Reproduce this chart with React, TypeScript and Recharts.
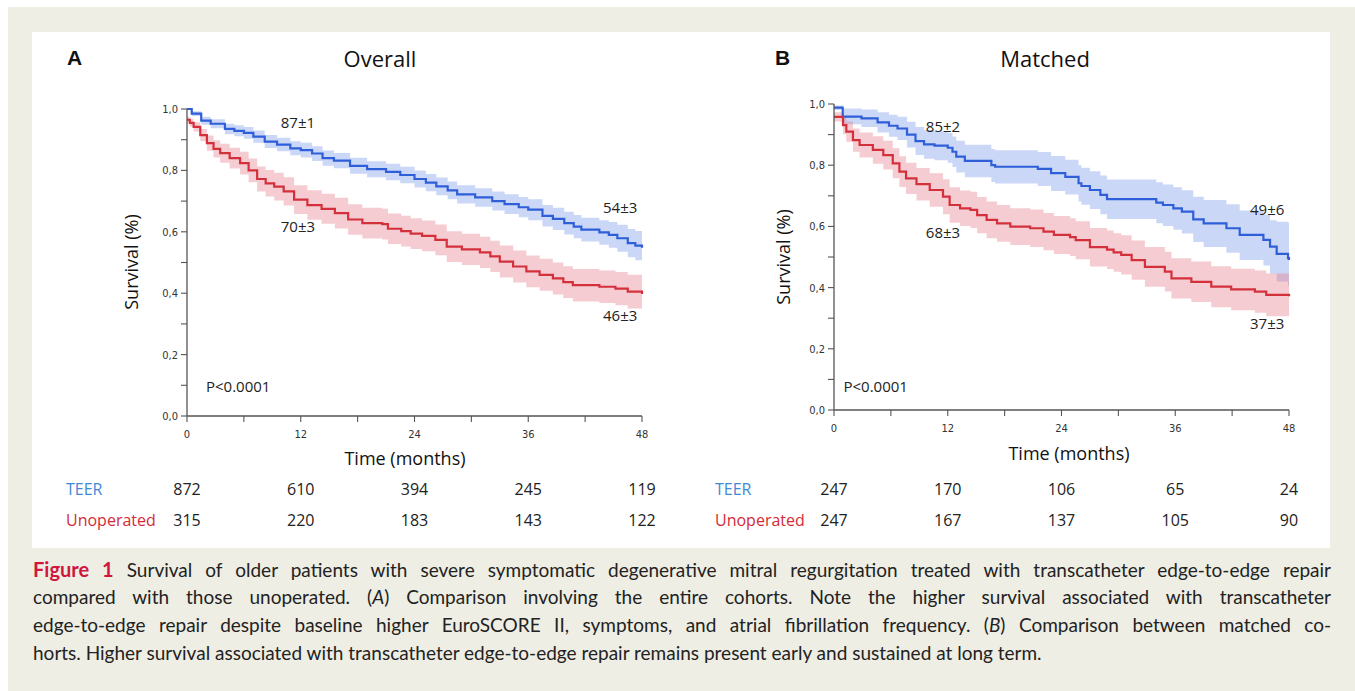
import React from 'react';
import { ComposedChart, Line, Area, XAxis, YAxis, ReferenceDot } from 'recharts';

// ---------- Panel A (Overall) ----------
const teerAT = [0, 0.5, 1.5, 2.5, 4, 5, 6, 7, 8.2, 9.5, 10.9, 12, 13.2, 14.3, 15.5, 17.2, 19, 21, 22.5, 24, 25.2, 26.3, 27.5, 28.5, 30.4, 32.2, 33.5, 35, 36, 37.5, 38.6, 39.8, 40.8, 41.6, 43.5, 44.5, 45.4, 46.5, 47.3, 48];
const teerAS = [1.0, 0.985, 0.962, 0.952, 0.935, 0.929, 0.922, 0.91, 0.894, 0.884, 0.872, 0.866, 0.855, 0.84, 0.832, 0.815, 0.804, 0.795, 0.785, 0.772, 0.76, 0.748, 0.735, 0.722, 0.712, 0.7, 0.69, 0.68, 0.672, 0.652, 0.642, 0.628, 0.617, 0.607, 0.598, 0.59, 0.579, 0.563, 0.555, 0.548];
const teerAHi = [1.0, 0.993, 0.975, 0.967, 0.952, 0.947, 0.941, 0.93, 0.915, 0.906, 0.895, 0.89, 0.879, 0.865, 0.857, 0.841, 0.83, 0.822, 0.812, 0.8, 0.788, 0.777, 0.764, 0.752, 0.742, 0.731, 0.722, 0.713, 0.706, 0.687, 0.678, 0.665, 0.655, 0.646, 0.638, 0.632, 0.623, 0.609, 0.603, 0.598];
const teerALo = [1.0, 0.977, 0.949, 0.937, 0.918, 0.911, 0.903, 0.89, 0.873, 0.862, 0.849, 0.842, 0.831, 0.815, 0.807, 0.789, 0.778, 0.768, 0.758, 0.744, 0.732, 0.719, 0.706, 0.692, 0.682, 0.669, 0.658, 0.647, 0.638, 0.617, 0.606, 0.591, 0.579, 0.568, 0.558, 0.548, 0.535, 0.517, 0.507, 0.498];

const unopAT = [0, 0.3, 0.7, 1.4, 2.1, 2.8, 3.5, 4.5, 5.6, 6.5, 7.4, 8.3, 9.2, 10.2, 11.3, 12.7, 14.2, 15.6, 17, 18.5, 20.6, 21.2, 22.6, 23.6, 24.8, 26.2, 27.4, 29, 30.9, 32, 33, 34.4, 35.8, 37.2, 38.6, 39.7, 40.7, 43.5, 45.2, 46.5, 48];
const unopAS = [0.965, 0.955, 0.942, 0.915, 0.889, 0.87, 0.856, 0.84, 0.824, 0.8, 0.772, 0.758, 0.747, 0.732, 0.705, 0.687, 0.675, 0.661, 0.64, 0.628, 0.625, 0.61, 0.602, 0.594, 0.587, 0.574, 0.552, 0.543, 0.533, 0.52, 0.503, 0.487, 0.471, 0.46, 0.448, 0.436, 0.426, 0.421, 0.415, 0.405, 0.397];
const unopAHi = [0.975, 0.967, 0.957, 0.935, 0.914, 0.898, 0.887, 0.874, 0.861, 0.839, 0.813, 0.801, 0.792, 0.778, 0.752, 0.735, 0.724, 0.711, 0.69, 0.678, 0.675, 0.66, 0.652, 0.644, 0.637, 0.624, 0.602, 0.594, 0.584, 0.571, 0.555, 0.539, 0.523, 0.512, 0.5, 0.488, 0.479, 0.474, 0.469, 0.46, 0.453];
const unopALo = [0.955, 0.943, 0.927, 0.895, 0.864, 0.842, 0.825, 0.806, 0.787, 0.761, 0.731, 0.715, 0.702, 0.686, 0.658, 0.639, 0.626, 0.611, 0.59, 0.578, 0.575, 0.56, 0.552, 0.544, 0.537, 0.524, 0.502, 0.492, 0.482, 0.469, 0.451, 0.435, 0.419, 0.408, 0.396, 0.384, 0.373, 0.368, 0.361, 0.35, 0.341];

// ---------- Panel B (Matched) ----------
const teerBT = [0, 0.92, 2.9, 4.6, 5.8, 6.7, 7.7, 8.6, 9.5, 10.6, 12, 12.5, 12.9, 13.8, 16.6, 17, 21.5, 22.9, 24.4, 25.8, 26.1, 27, 28.1, 28.8, 34, 34.7, 35.8, 36.7, 37.9, 39, 41.4, 42.8, 45.3, 46, 46.7, 47.9, 48];
const teerBS = [0.988, 0.959, 0.953, 0.94, 0.929, 0.92, 0.9, 0.879, 0.868, 0.864, 0.857, 0.844, 0.828, 0.814, 0.8, 0.795, 0.788, 0.774, 0.762, 0.741, 0.732, 0.719, 0.703, 0.689, 0.678, 0.67, 0.659, 0.648, 0.623, 0.61, 0.594, 0.572, 0.556, 0.534, 0.51, 0.496, 0.49];
const teerBHi = [0.995, 0.985, 0.982, 0.973, 0.965, 0.958, 0.942, 0.925, 0.915, 0.912, 0.905, 0.894, 0.88, 0.867, 0.853, 0.849, 0.843, 0.83, 0.818, 0.8, 0.792, 0.78, 0.766, 0.753, 0.744, 0.737, 0.728, 0.718, 0.697, 0.686, 0.672, 0.652, 0.638, 0.62, 0.615, 0.612, 0.61];
const teerBLo = [0.98, 0.934, 0.925, 0.907, 0.893, 0.882, 0.858, 0.833, 0.821, 0.816, 0.808, 0.794, 0.776, 0.761, 0.745, 0.74, 0.732, 0.716, 0.704, 0.681, 0.671, 0.657, 0.64, 0.624, 0.61, 0.601, 0.589, 0.577, 0.549, 0.533, 0.514, 0.49, 0.472, 0.445, 0.42, 0.405, 0.4];

const unopBT = [0, 0.95, 1.3, 2, 2.7, 4.1, 5.2, 6.2, 6.9, 7.6, 8.7, 10.1, 11.5, 12.2, 13.3, 14.4, 15.1, 16.1, 17.2, 18.6, 20.7, 22.1, 23.2, 24.9, 25.5, 27, 28.8, 29.5, 30.3, 31.4, 32.8, 34.9, 35.6, 37.7, 39.8, 41.9, 44.4, 45.6, 48];
const unopBS = [0.958, 0.931, 0.91, 0.882, 0.866, 0.85, 0.833, 0.806, 0.779, 0.757, 0.738, 0.719, 0.697, 0.67, 0.659, 0.654, 0.637, 0.621, 0.61, 0.599, 0.594, 0.583, 0.572, 0.565, 0.555, 0.532, 0.524, 0.515, 0.507, 0.49, 0.468, 0.452, 0.43, 0.419, 0.403, 0.394, 0.387, 0.376, 0.372];
const unopBHi = [0.973, 0.961, 0.943, 0.92, 0.907, 0.895, 0.88, 0.855, 0.829, 0.808, 0.791, 0.774, 0.754, 0.728, 0.717, 0.713, 0.696, 0.681, 0.67, 0.659, 0.655, 0.644, 0.634, 0.627, 0.617, 0.595, 0.587, 0.578, 0.571, 0.554, 0.533, 0.517, 0.496, 0.485, 0.47, 0.462, 0.456, 0.446, 0.442];
const unopBLo = [0.943, 0.901, 0.877, 0.844, 0.825, 0.805, 0.786, 0.757, 0.729, 0.706, 0.685, 0.664, 0.64, 0.612, 0.601, 0.595, 0.578, 0.561, 0.55, 0.539, 0.533, 0.522, 0.51, 0.503, 0.493, 0.469, 0.461, 0.452, 0.443, 0.426, 0.403, 0.387, 0.364, 0.353, 0.336, 0.326, 0.318, 0.306, 0.302];

// ---------- Axes / risk table ----------
const monthTicks = [0, 6, 12, 18, 24, 30, 36, 42, 48];
const survTicks = [0, 0.1, 0.2, 0.3, 0.4, 0.5, 0.6, 0.7, 0.8, 0.9, 1.0];
const riskTimes = [0, 12, 24, 36, 48];
const riskTeerA = [872, 610, 394, 245, 119];
const riskUnopA = [315, 220, 183, 143, 122];
const riskTeerB = [247, 170, 106, 65, 24];
const riskUnopB = [247, 167, 137, 105, 90];

const captionLines = [
  'Survival of older patients with severe symptomatic degenerative mitral regurgitation treated with transcatheter edge-to-edge repair',
  'compared with those unoperated. (|A|) Comparison involving the entire cohorts. Note the higher survival associated with transcatheter',
  'edge-to-edge repair despite baseline higher EuroSCORE II, symptoms, and atrial fibrillation frequency. (|B|) Comparison between matched co-',
  'horts. Higher survival associated with transcatheter edge-to-edge repair remains present early and sustained at long term.',
];

const NARROW = '"Liberation Sans Narrow", "Arial Narrow", "DejaVu Sans Condensed", "Liberation Sans", sans-serif';
const SANS = '"Open Sans", "Noto Sans", sans-serif';
const BLUE = '#2f5fd8';
const RED = '#d4303c';

type Series = { t: number[]; s: number[]; lo: number[]; hi: number[] };

function buildTable(a: Series, b: Series) {
  const times = Array.from(new Set([...a.t, ...b.t])).sort((x, y) => x - y);
  const idx = (ser: Series, t: number) => {
    let i = 0;
    while (i + 1 < ser.t.length && ser.t[i + 1] <= t) i++;
    return i;
  };
  return times.map((t) => {
    const i = idx(a, t);
    const j = idx(b, t);
    return {
      t,
      teer: a.s[i],
      teerBand: [a.lo[i], a.hi[i]],
      unop: b.s[j],
      unopBand: [b.lo[j], b.hi[j]],
    };
  });
}

const dataA = buildTable(
  { t: teerAT, s: teerAS, lo: teerALo, hi: teerAHi },
  { t: unopAT, s: unopAS, lo: unopALo, hi: unopAHi }
);
const dataB = buildTable(
  { t: teerBT, s: teerBS, lo: teerBLo, hi: teerBHi },
  { t: unopBT, s: unopBS, lo: unopBLo, hi: unopBHi }
);

const fmtY = (v: number) => {
  const k = Math.round(v * 10);
  return k % 2 === 0 ? (k / 10).toFixed(1).replace('.', ',') : '';
};

function makeTick(teer: number[], unop: number[], dyTeer: number, dyUnop: number) {
  return (props: any) => {
    const { x, y, payload } = props;
    const v = payload.value as number;
    const i = riskTimes.indexOf(v);
    if (i < 0) return <g />;
    return (
      <g>
        <text x={x} y={y + 10} textAnchor="middle" dominantBaseline="central" fontSize={11} fill="#333" fontFamily={NARROW}>{v}</text>
        <text x={x} y={y + dyTeer} textAnchor="middle" dominantBaseline="central" fontSize={16} fill="#222" fontFamily={SANS}>{teer[i]}</text>
        <text x={x} y={y + dyUnop} textAnchor="middle" dominantBaseline="central" fontSize={16} fill="#222" fontFamily={SANS}>{unop[i]}</text>
      </g>
    );
  };
}

type Note = { x: number; y: number; text: string };

function KMChart(props: {
  data: any[];
  margin: { top: number; right: number; bottom: number; left: number };
  xHeight: number;
  teer: number[];
  unop: number[];
  dyTeer: number;
  dyUnop: number;
  notes: Note[];
}) {
  const { data, margin, xHeight, teer, unop, dyTeer, dyUnop, notes } = props;
  return (
    <ComposedChart width={margin.left + 40 + 455 + margin.right} height={516} data={data} margin={margin}>
      <XAxis
        dataKey="t"
        type="number"
        domain={[0, 48]}
        ticks={monthTicks}
        interval={0}
        height={xHeight}
        tickSize={6}
        tickMargin={2}
        stroke="#555"
        axisLine={{ stroke: '#555', strokeWidth: 1.3 }}
        tickLine={{ stroke: '#555', strokeWidth: 1.1 }}
        tick={makeTick(teer, unop, dyTeer, dyUnop)}
      />
      <YAxis
        type="number"
        domain={[0, 1]}
        ticks={survTicks}
        interval={0}
        width={40}
        tickSize={6}
        tickMargin={3}
        stroke="#555"
        axisLine={{ stroke: '#555', strokeWidth: 1.3 }}
        tickLine={{ stroke: '#555', strokeWidth: 1.1 }}
        tickFormatter={fmtY}
        tick={{ fontSize: 11, fill: '#333', fontFamily: NARROW }}
      />
      <Area type="stepAfter" dataKey="teerBand" stroke="none" fill="#7d9cec" fillOpacity={0.4} isAnimationActive={false} activeDot={false} />
      <Area type="stepAfter" dataKey="unopBand" stroke="none" fill="#e57a86" fillOpacity={0.38} isAnimationActive={false} activeDot={false} />
      <Line type="stepAfter" dataKey="teer" stroke={BLUE} strokeWidth={2.2} dot={false} activeDot={false} isAnimationActive={false} />
      <Line type="stepAfter" dataKey="unop" stroke={RED} strokeWidth={2.2} dot={false} activeDot={false} isAnimationActive={false} />
      {notes.map((n, k) => (
        <ReferenceDot
          key={k}
          x={n.x}
          y={n.y}
          r={0}
          fill="none"
          stroke="none"
          ifOverflow="visible"
          label={{ value: n.text, position: 'center', fontSize: 15, fill: '#222', fontFamily: SANS }}
        />
      ))}
    </ComposedChart>
  );
}

const notesA: Note[] = [
  { x: 11.7, y: 0.954, text: '87±1' },
  { x: 11.7, y: 0.616, text: '70±3' },
  { x: 45.7, y: 0.678, text: '54±3' },
  { x: 45.7, y: 0.326, text: '46±3' },
  { x: 5.4, y: 0.094, text: 'P<0.0001' },
];
const notesB: Note[] = [
  { x: 11.5, y: 0.925, text: '85±2' },
  { x: 11.5, y: 0.578, text: '68±3' },
  { x: 45.7, y: 0.654, text: '49±6' },
  { x: 45.7, y: 0.281, text: '37±3' },
  { x: 4.4, y: 0.075, text: 'P<0.0001' },
];

const abs = (s: React.CSSProperties): React.CSSProperties => ({ position: 'absolute', ...s });

function CenterText(p: { cx: number; cy: number; text: string; size: number; rotate?: boolean; color?: string; weight?: number; family?: string }) {
  return (
    <div
      style={abs({
        left: p.cx,
        top: p.cy,
        transform: `translate(-50%, -50%)${p.rotate ? ' rotate(-90deg)' : ''}`,
        whiteSpace: 'nowrap',
        fontSize: p.size,
        lineHeight: 1,
        color: p.color || '#111',
        fontWeight: p.weight || 400,
        fontFamily: p.family || SANS,
      })}
    >
      {p.text}
    </div>
  );
}

function LeftText(p: { x: number; cy: number; text: string; size: number; color: string; weight?: number; family?: string }) {
  return (
    <div
      style={abs({
        left: p.x,
        top: p.cy,
        transform: 'translateY(-50%)',
        whiteSpace: 'nowrap',
        fontSize: p.size,
        lineHeight: 1,
        color: p.color,
        fontWeight: p.weight || 400,
        fontFamily: p.family || SANS,
      })}
    >
      {p.text}
    </div>
  );
}

function renderCaptionLine(s: string) {
  const parts = s.split('|');
  return parts.map((part, i) => (i % 2 === 1 ? <i key={i}>{part}</i> : <span key={i}>{part}</span>));
}

export default function App() {
  return (
    <div style={abs({ left: 0, top: 0, width: 1355, height: 691, background: '#ffffff', overflow: 'hidden' })}>
      <div style={abs({ left: 8, top: 7, width: 1347, height: 684, background: '#efeee4' })} />
      <div style={abs({ left: 32, top: 32, width: 1298, height: 516, background: '#ffffff' })} />

      <div style={abs({ left: 32, top: 32 })}>
        <KMChart
          data={dataA}
          margin={{ top: 77, right: 40, bottom: 0, left: 115 }}
          xHeight={132}
          teer={riskTeerA}
          unop={riskUnopA}
          dyTeer={65}
          dyUnop={96}
          notes={notesA}
        />
      </div>
      <div style={abs({ left: 682, top: 32 })}>
        <KMChart
          data={dataB}
          margin={{ top: 72, right: 41, bottom: 0, left: 112 }}
          xHeight={138}
          teer={riskTeerB}
          unop={riskUnopB}
          dyTeer={71}
          dyUnop={102}
          notes={notesB}
        />
      </div>

      <LeftText x={67} cy={57} text="A" size={21} color="#111" weight={700} family='"Liberation Sans", Arial, sans-serif' />
      <LeftText x={775} cy={57} text="B" size={21} color="#111" weight={700} family='"Liberation Sans", Arial, sans-serif' />
      <CenterText cx={380} cy={58} text="Overall" size={22} />
      <CenterText cx={1045} cy={58} text="Matched" size={22} />
      <CenterText cx={131} cy={262} text="Survival (%)" size={18} rotate />
      <CenterText cx={783} cy={257} text="Survival (%)" size={18} rotate />
      <CenterText cx={405} cy={458} text="Time (months)" size={18} />
      <CenterText cx={1069} cy={453} text="Time (months)" size={18} />

      <LeftText x={66} cy={489} text="TEER" size={16} color="#3f8ad6" />
      <LeftText x={66} cy={520} text="Unoperated" size={16} color="#d42a36" />
      <LeftText x={715} cy={489} text="TEER" size={16} color="#3f8ad6" />
      <LeftText x={715} cy={520} text="Unoperated" size={16} color="#d42a36" />

      {captionLines.map((line, i) => (
        <div
          key={i}
          style={abs({
            left: 33,
            top: 569 + i * 28 - 14,
            width: 1298,
            height: 28,
            lineHeight: '28px',
            fontSize: 19,
            fontFamily: 'Lato, "Open Sans", sans-serif',
            color: '#222',
            textAlign: i < captionLines.length - 1 ? 'justify' : 'left',
            textAlignLast: i < captionLines.length - 1 ? 'justify' : 'left',
            whiteSpace: 'nowrap',
          })}
        >
          {i === 0 && <span style={{ color: '#d0163c', fontWeight: 700, fontSize: 20 }}>Figure 1 </span>}
          {renderCaptionLine(line)}
        </div>
      ))}
    </div>
  );
}
